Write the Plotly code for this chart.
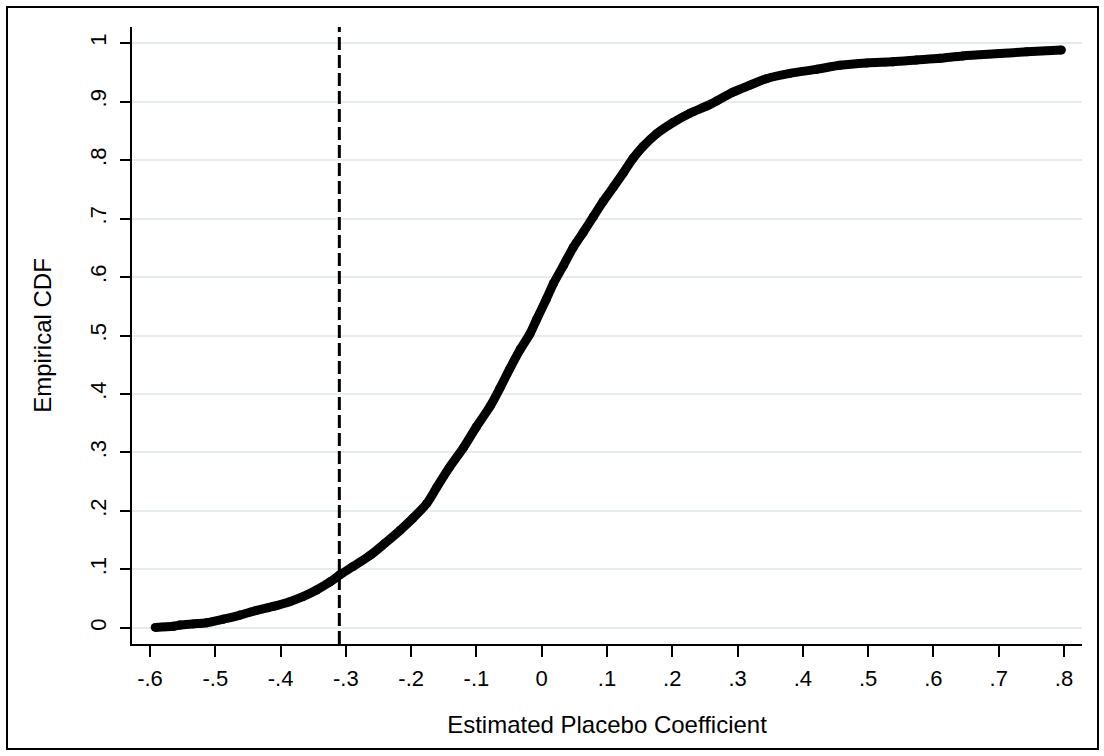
import plotly.graph_objects as go

# Empirical CDF of estimated placebo coefficients
coef = [-0.592, -0.564, -0.554, -0.534, -0.513, -0.488, -0.462, -0.437, -0.411, -0.386,
        -0.365, -0.345, -0.324, -0.309, -0.289, -0.263, -0.240, -0.217, -0.197, -0.176,
        -0.161, -0.141, -0.120, -0.100, -0.079, -0.064, -0.049, -0.033, -0.018, -0.008,
        0.007, 0.018, 0.033, 0.048, 0.064, 0.079, 0.094, 0.110, 0.125, 0.140,
        0.155, 0.176, 0.201, 0.227, 0.252, 0.268, 0.293, 0.319, 0.344, 0.380,
        0.421, 0.457, 0.498, 0.538, 0.574, 0.610, 0.645, 0.702, 0.743, 0.796]
cdf = [0.001, 0.003, 0.005, 0.007, 0.009, 0.015, 0.022, 0.030, 0.037, 0.045,
       0.054, 0.065, 0.079, 0.091, 0.105, 0.124, 0.145, 0.167, 0.188, 0.213,
       0.240, 0.275, 0.308, 0.344, 0.379, 0.410, 0.443, 0.476, 0.503, 0.527,
       0.562, 0.589, 0.619, 0.650, 0.677, 0.703, 0.729, 0.754, 0.778, 0.803,
       0.823, 0.845, 0.864, 0.880, 0.892, 0.901, 0.916, 0.928, 0.939, 0.948,
       0.955, 0.962, 0.966, 0.968, 0.971, 0.974, 0.978, 0.982, 0.985, 0.988]

actual_coef = -0.31

x_tickvals = [-0.6, -0.5, -0.4, -0.3, -0.2, -0.1, 0, 0.1, 0.2, 0.3, 0.4, 0.5, 0.6, 0.7, 0.8]
x_ticktext = ["-.6", "-.5", "-.4", "-.3", "-.2", "-.1", "0", ".1", ".2", ".3", ".4", ".5", ".6", ".7", ".8"]
y_tickvals = [0, 0.1, 0.2, 0.3, 0.4, 0.5, 0.6, 0.7, 0.8, 0.9, 1.0]
y_ticktext = ["0", ".1", ".2", ".3", ".4", ".5", ".6", ".7", ".8", ".9", "1"]

FONT = "Liberation Sans, Arial, sans-serif"

fig = go.Figure()
fig.add_trace(go.Scatter(
    x=coef, y=cdf, mode="lines+markers",
    line=dict(color="black", width=9, shape="spline", smoothing=0.8),
    marker=dict(color="black", size=9),
    showlegend=False, hoverinfo="x+y",
))

fig.add_shape(type="line", xref="x", yref="paper", x0=actual_coef, x1=actual_coef, y0=0, y1=1,
              line=dict(color="black", width=3, dash="13px,5px"))

# outer frame around the whole graph
L, R, T, B = 132, 22, 27, 112
W, H = 1104, 756
pw, ph = W - L - R, H - T - B
fig.add_shape(type="rect", xref="paper", yref="paper",
              x0=(7 - L) / pw, x1=(1098 - L) / pw,
              y0=((H - B) - 749) / ph, y1=((H - B) - 7) / ph,
              line=dict(color="black", width=2), fillcolor="rgba(0,0,0,0)", layer="below")

fig.update_layout(
    width=W, height=H,
    margin=dict(l=L, r=R, t=T, b=B),
    paper_bgcolor="white", plot_bgcolor="white",
    font=dict(family=FONT, size=22, color="black"),
    xaxis=dict(range=[-0.6276, 0.8276], tickvals=x_tickvals, ticktext=x_ticktext,
               showgrid=False, zeroline=False, showline=True, linecolor="black", linewidth=1.5,
               ticks="outside", ticklen=11, tickwidth=1.5, tickcolor="black",
               tickfont=dict(size=22), ticklabelstandoff=3,
               title=dict(text="Estimated Placebo Coefficient", font=dict(size=24), standoff=26)),
    yaxis=dict(range=[-0.0274, 1.0274], tickvals=y_tickvals, ticktext=y_ticktext,
               showgrid=True, gridcolor="#E4ECEE", gridwidth=2, zeroline=False,
               showline=True, linecolor="black", linewidth=1.5,
               ticks="outside", ticklen=10, tickwidth=1.5, tickcolor="black",
               tickangle=-90, tickfont=dict(size=22), ticklabelstandoff=5,
               title=dict(text="Empirical CDF", font=dict(size=24), standoff=28)),
)

fig.write_html("out.html")
